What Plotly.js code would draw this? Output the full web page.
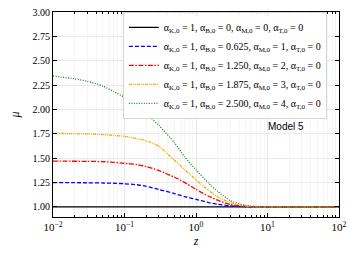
<!DOCTYPE html>
<html><head><meta charset="utf-8">
<script src="https://cdn.plot.ly/plotly-3.0.1.min.js"></script>
<style>html,body{margin:0;padding:0;background:#fff}#chart{width:354px;height:253px}</style>
</head><body><div id="chart"></div>
<script>
const z = [0.01, 0.02, 0.03, 0.05, 0.07, 0.1, 0.15, 0.2, 0.3, 0.5, 0.7, 1, 1.5, 2, 3, 5, 7, 10, 20, 50, 100];
const mu0 = [1,1,1,1,1,1,1,1,1,1,1,1,1,1,1,1,1,1,1,1,1];
const mu1 = [1.250, 1.249, 1.248, 1.246, 1.243, 1.238, 1.228, 1.212, 1.180, 1.137, 1.106, 1.078, 1.045, 1.028, 1.010, 1.002, 1.001, 1.000, 1.000, 1.000, 1.000];
const mu2 = [1.470, 1.469, 1.468, 1.465, 1.458, 1.447, 1.435, 1.415, 1.375, 1.305, 1.250, 1.180, 1.110, 1.070, 1.025, 1.005, 1.001, 1.000, 1.000, 1.000, 1.000];
const mu3 = [1.755, 1.752, 1.748, 1.743, 1.734, 1.725, 1.700, 1.680, 1.625, 1.480, 1.380, 1.280, 1.170, 1.105, 1.045, 1.008, 1.002, 1.000, 1.000, 1.000, 1.000];
const mu4 = [2.344, 2.315, 2.290, 2.240, 2.185, 2.125, 2.035, 1.960, 1.840, 1.660, 1.510, 1.380, 1.245, 1.160, 1.065, 1.015, 1.005, 1.001, 1.000, 1.000, 1.000];
const names = [
 "α<sub>K,0</sub> = 1, α<sub>B,0</sub> = 0, α<sub>M,0</sub> = 0, α<sub>T,0</sub> = 0",
 "α<sub>K,0</sub> = 1, α<sub>B,0</sub> = 0.625, α<sub>M,0</sub> = 1, α<sub>T,0</sub> = 0",
 "α<sub>K,0</sub> = 1, α<sub>B,0</sub> = 1.250, α<sub>M,0</sub> = 2, α<sub>T,0</sub> = 0",
 "α<sub>K,0</sub> = 1, α<sub>B,0</sub> = 1.875, α<sub>M,0</sub> = 3, α<sub>T,0</sub> = 0",
 "α<sub>K,0</sub> = 1, α<sub>B,0</sub> = 2.500, α<sub>M,0</sub> = 4, α<sub>T,0</sub> = 0"
];
const xTickVals = [0.01, 0.1, 1, 10, 100];
const xTickText = ["10<sup>−2</sup>", "10<sup>−1</sup>", "10<sup>0</sup>", "10<sup>1</sup>", "10<sup>2</sup>"];
const yTickVals = [1.00, 1.25, 1.50, 1.75, 2.00, 2.25, 2.50, 2.75, 3.00];
const annotationText = "Model 5";

const series = [mu0, mu1, mu2, mu3, mu4];
const colors = ["#000000", "#0000ff", "#ff0000", "#ffa500", "#1a8a1a"];
const dashes = ["solid", "4px,2px", "5px,1.5px,1.5px,1.5px", "3px,1px,1px,1px,1px,1px", "1px,1.5px"];

const traces = series.map((s, i) => ({
  x: z, y: s, type: "scatter", mode: "lines", name: names[i],
  line: {color: colors[i], width: 1.3, dash: dashes[i], shape: "spline", smoothing: 0.5}
}));

const minorVals = [];
for (let d = -2; d < 2; d++) for (let k = 2; k <= 9; k++) minorVals.push(k * Math.pow(10, d));

const serif = "Liberation Serif, DejaVu Serif, serif";
const layout = {
  width: 354, height: 253,
  margin: {l: 53, r: 15, t: 12, b: 36},
  paper_bgcolor: "#fff", plot_bgcolor: "#fff",
  font: {family: serif, size: 10, color: "#000"},
  showlegend: true,
  legend: {x: 0.245, y: 1, xanchor: "left", yanchor: "top",
    bgcolor: "rgba(255,255,255,0.9)", bordercolor: "#cccccc", borderwidth: 0.8,
    font: {family: serif, size: 10}, tracegroupgap: 0, itemwidth: 30},
  xaxis: {type: "log", range: [-2, 2], tickmode: "array", tickvals: xTickVals, ticktext: xTickText,
    ticks: "inside", ticklen: 4, tickcolor: "#000", showline: true, linecolor: "#000", linewidth: 1,
    mirror: "allticks", showgrid: true, gridcolor: "#e4e4e4", gridwidth: 0.8, zeroline: false,
    tickfont: {family: serif, size: 11},
    minor: {tickmode: "array", tickvals: minorVals, ticks: "inside", ticklen: 2, tickcolor: "#000", showgrid: true, gridcolor: "#eeeeee", gridwidth: 0.6},
    title: {text: "<i>z</i>", font: {family: serif, size: 12}, standoff: 4}},
  yaxis: {range: [0.897, 3.0], tickmode: "array", tickvals: yTickVals, tickformat: ".2f",
    ticks: "inside", ticklen: 4, tickcolor: "#000", showline: true, linecolor: "#000", linewidth: 1,
    mirror: "allticks", showgrid: true, gridcolor: "#e4e4e4", gridwidth: 0.8, zeroline: false,
    tickfont: {family: serif, size: 10},
    title: {text: "<i>μ</i>", font: {family: serif, size: 12}, standoff: 10}},
  annotations: [{x: 1.26, y: 1.83, xref: "x", yref: "y", text: annotationText, showarrow: false,
    font: {family: "Liberation Sans, Arial, sans-serif", size: 10, color: "#000"}}]
};
Plotly.newPlot("chart", traces, layout, {staticPlot: true, displayModeBar: false});
</script></body></html>
